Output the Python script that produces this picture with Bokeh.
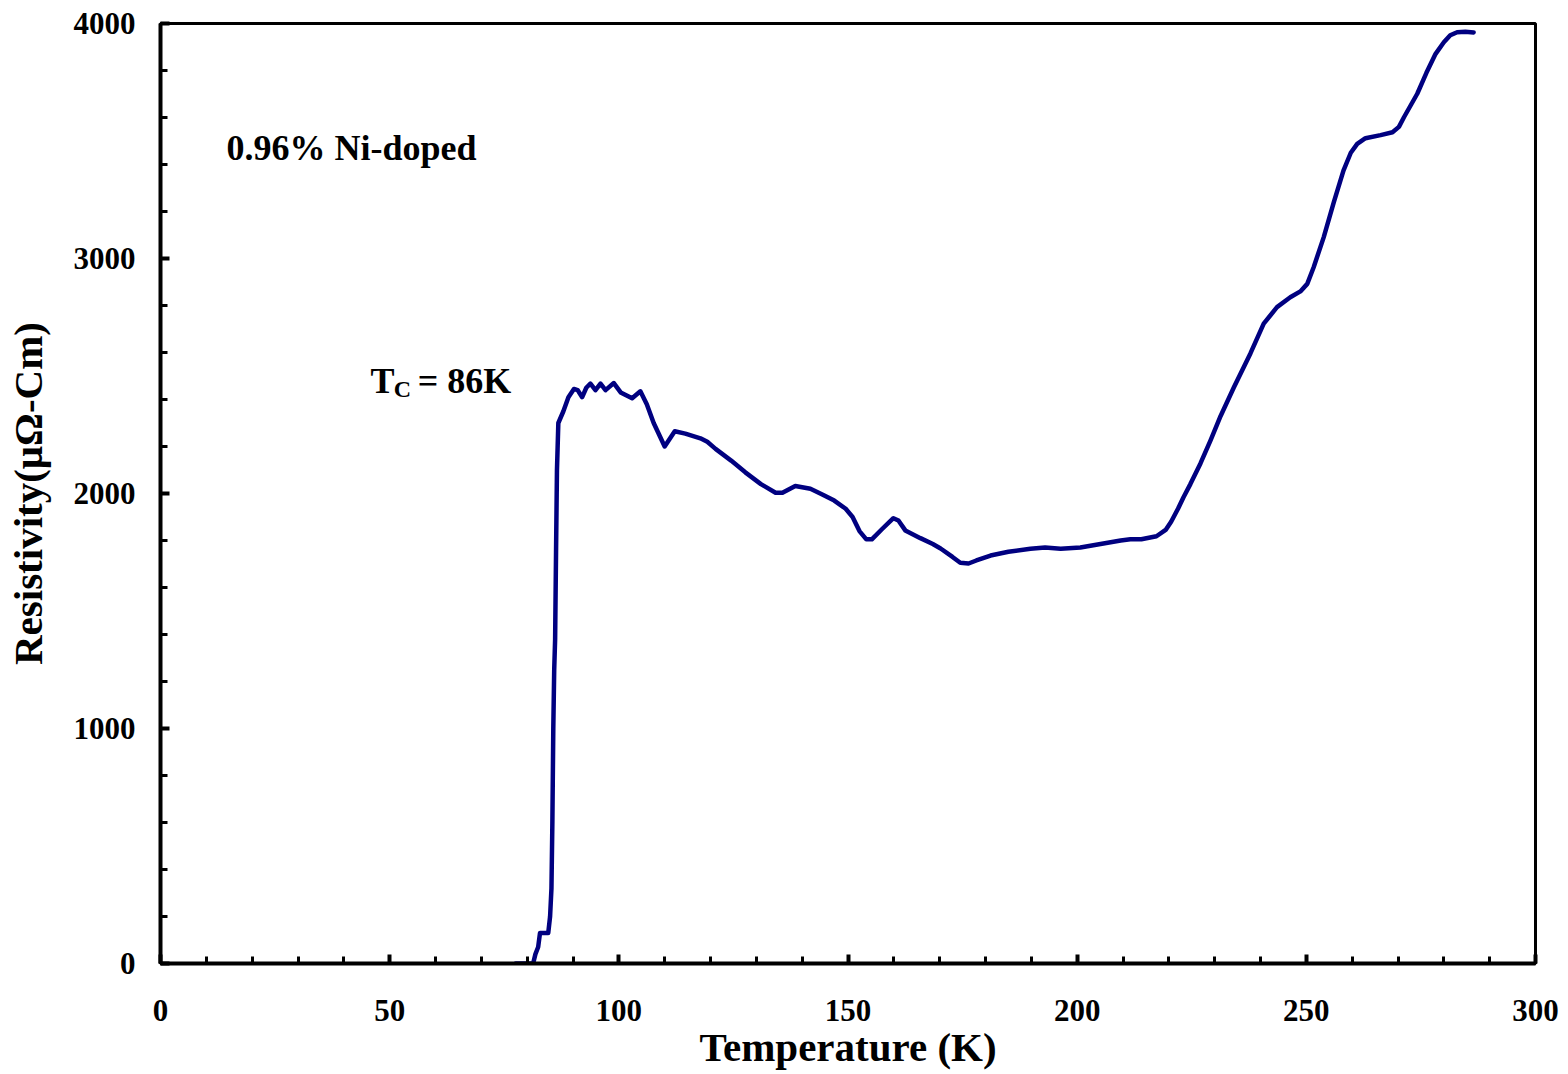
from bokeh.plotting import figure
from bokeh.models import SingleIntervalTicker, Range1d
from bokeh.core.properties import value
from bokeh.embed import file_html
from bokeh.resources import INLINE

# ---- data ----
temperature_K = [77.5, 81.3, 81.8, 82.4, 82.8, 84.6, 85.0, 85.3, 85.5, 85.7, 85.9, 86.1, 86.3, 86.5, 86.8,
                 87.9, 89.0, 90.2, 91.0, 92.0, 92.9, 93.8, 94.9, 96.0, 97.1, 98.9, 100.4, 102.9, 104.7,
                 106.1, 107.6, 110.0, 112.2, 114.5, 117.8, 119.3, 121.1, 124.5, 127.6, 131.0, 134.2,
                 135.7, 138.5, 141.8, 144.5, 147.0, 149.5, 151.0, 152.5, 154.0, 155.2, 157.5, 159.9,
                 161.0, 162.5, 165.8, 168.5, 170.2, 172.8, 174.5, 176.3, 178.0, 181.1, 185.0, 189.8,
                 193.0, 196.4, 200.7, 205.1, 209.5, 211.6, 214.0, 217.3, 219.3, 220.5, 222.0, 223.2,
                 224.7, 226.9, 229.1, 231.3, 234.2, 237.8, 240.7, 243.6, 246.5, 248.7, 250.2, 251.6,
                 253.8, 256.0, 258.1, 259.7, 261.1, 262.9, 266.2, 268.8, 270.2, 271.3, 274.2, 276.2,
                 278.2, 280.0, 281.4, 282.9, 284.7, 286.5]
resistivity = [0, 0, 40, 70, 130, 130, 200, 320, 600, 1000, 1250, 1380, 1750, 2100, 2300,
               2350, 2410, 2445, 2440, 2410, 2450, 2468, 2440, 2468, 2440, 2470, 2430, 2405, 2435,
               2380, 2300, 2200, 2265, 2255, 2235, 2220, 2190, 2140, 2090, 2040, 2003,
               2003, 2032, 2020, 1995, 1970, 1935, 1900, 1840, 1805, 1805, 1850, 1895,
               1885, 1843, 1810, 1785, 1766, 1730, 1705, 1702, 1715, 1736, 1752, 1765,
               1770, 1765, 1770, 1785, 1800, 1805, 1805, 1818, 1845, 1880, 1935, 1984,
               2040, 2128, 2226, 2330, 2452, 2596, 2723, 2793, 2835, 2860, 2892, 2963,
               3091, 3240, 3374, 3450, 3488, 3512, 3525, 3537, 3560, 3601, 3701, 3790,
               3871, 3920, 3950, 3963, 3965, 3962]

x_title = "Temperature (K)"
y_title = "Resistivity(μΩ-Cm)"
sample_label = "0.96% Ni-doped"
tc_main = "T"
tc_sub = "C"
tc_rest = "= 86K"

FONT = "Liberation Serif"

p = figure(width=1568, height=1074, output_backend="svg", toolbar_location=None,
           x_range=Range1d(0, 300), y_range=Range1d(0, 4000),
           min_border_left=160, min_border_right=33, min_border_top=23, min_border_bottom=111)
p.background_fill_color = "white"
p.border_fill_color = "white"
p.outline_line_color = "black"
p.outline_line_width = 3
p.xgrid.visible = False
p.ygrid.visible = False

p.line(temperature_K, resistivity, line_color="#000080", line_width=4.5, line_join="round", line_cap="round")

# annotations
p.text(x=[14.4], y=[3472], text=[sample_label], text_font=value(FONT), text_font_style="bold",
       text_font_size="36px", text_baseline="alphabetic", text_align="left", text_color="black")
p.text(x=[45.8], y=[2477], text=[tc_main], text_font=value(FONT), text_font_style="bold",
       text_font_size="36px", text_baseline="alphabetic", text_align="left", text_color="black")
p.text(x=[50.9], y=[2443], text=[tc_sub], text_font=value(FONT), text_font_style="bold",
       text_font_size="24px", text_baseline="alphabetic", text_align="left", text_color="black")
p.text(x=[56.1], y=[2477], text=[tc_rest], text_font=value(FONT), text_font_style="bold",
       text_font_size="36px", text_baseline="alphabetic", text_align="left", text_color="black")

# axes
p.xaxis.ticker = SingleIntervalTicker(interval=50, num_minor_ticks=5)
p.yaxis.ticker = SingleIntervalTicker(interval=1000, num_minor_ticks=5)
for ax in (p.xaxis[0], p.yaxis[0]):
    ax.axis_line_width = 4
    ax.axis_line_color = "black"
    ax.major_tick_in = 9
    ax.major_tick_out = 0
    ax.minor_tick_in = 7
    ax.minor_tick_out = 0
    ax.major_tick_line_width = 4
    ax.minor_tick_line_width = 3
    ax.major_tick_line_color = "black"
    ax.minor_tick_line_color = "black"
    ax.major_label_text_font = FONT
    ax.major_label_text_font_style = "bold"
    ax.major_label_text_font_size = "31px"
    ax.major_label_text_color = "black"
    ax.axis_label_text_font = FONT
    ax.axis_label_text_font_style = "bold"
    ax.axis_label_text_font_size = "41px"
    ax.axis_label_text_color = "black"

p.xaxis.axis_label = x_title
p.yaxis.axis_label = y_title
p.xaxis.major_label_standoff = 36
p.yaxis.major_label_standoff = 25
p.xaxis.axis_label_standoff = 0
p.yaxis.axis_label_standoff = 20

open("out.html", "w").write(file_html(p, INLINE))
